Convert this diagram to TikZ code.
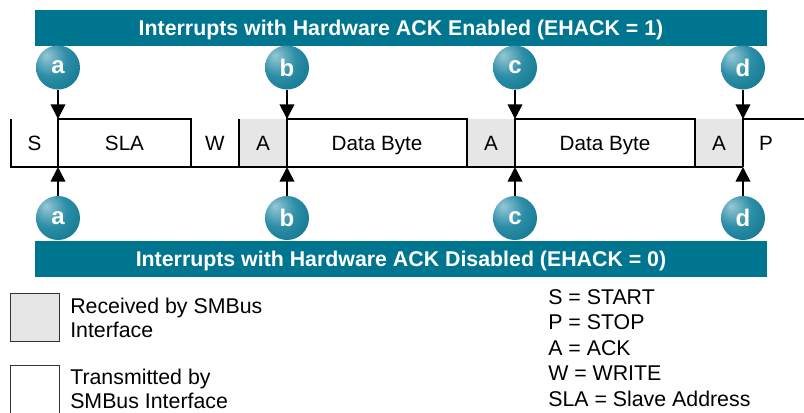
\documentclass[tikz,border=0pt]{standalone}
\usepackage{fontspec}
\setmainfont{Liberation Sans}
\usetikzlibrary{arrows.meta}
\definecolor{bannerteal}{RGB}{0,117,143}
\definecolor{bubblehi}{RGB}{150,200,214}
\definecolor{bubblemid}{RGB}{45,142,167}
\definecolor{bubbleedge}{RGB}{0,106,128}
\definecolor{rxgray}{RGB}{230,230,230}
\pgfdeclareradialshading{bubbleshade}{\pgfpoint{-14bp}{14bp}}{color(0bp)=(bubblehi); color(20bp)=(bubblemid); color(50bp)=(bubbleedge); color(72bp)=(bubbleedge)}
\begin{document}
\begin{tikzpicture}[x=0.75pt, y=-0.75pt,
  banner/.style={fill=bannerteal, text=white, font=\bfseries\fontsize{16}{19}\selectfont, minimum width=549pt, minimum height=27pt, inner sep=0pt, text height=11.5pt, text depth=0pt},
  bubble/.style={circle, shading=bubbleshade, minimum size=33pt, inner sep=0pt, text=white, font=\bfseries\fontsize{18}{20}\selectfont},
  field/.style={anchor=base, inner sep=0pt, font=\fontsize{15.5}{18}\selectfont},
  frame/.style={line width=1.1pt},
  irq/.style={line width=1.3pt, -{Triangle[length=11pt,width=11pt]}},
  swatch/.style={draw=black!80, line width=1.1pt, minimum width=36.5pt, minimum height=36.3pt, inner sep=0pt},
  legend/.style={anchor=north west, align=left, inner sep=0pt, font=\fontsize{16}{17.8}\selectfont},
  abbrev/.style={anchor=north west, align=left, inner sep=0pt, font=\fontsize{16}{19.2}\selectfont}
]
  \useasboundingbox (0,0) rectangle (804,412);
  \clip (0,0) rectangle (804,412);

  % received fields
  \fill[rxgray] (239,119) rectangle (287,167);
  \fill[rxgray] (467,119) rectangle (515,167);
  \fill[rxgray] (695,119) rectangle (743,167);

  % frame outline
  \draw[frame] (11,119) -- (11,167) -- (743,167);
  \draw[frame] (58,167) -- (58,119) -- (191,119) -- (191,167);
  \draw[frame] (239,119) -- (239,167);
  \draw[frame] (287,167) -- (287,119) -- (467,119) -- (467,167);
  \draw[frame] (515,167) -- (515,119) -- (695,119) -- (695,167);
  \draw[frame] (743,167) -- (743,119) -- (804,119);

  \node[field] (start) at (34.5,150.5) {S};
  \node[field] (sla) at (124.5,150.5) {SLA};
  \node[field] (write) at (215,150.5) {W};
  \node[field] (ack1) at (263,150.5) {A};
  \node[field] (data1) at (377,150.5) {Data Byte};
  \node[field] (ack2) at (491,150.5) {A};
  \node[field] (data2) at (605,150.5) {Data Byte};
  \node[field] (ack3) at (719,150.5) {A};
  \node[field] (stop) at (766,150.5) {P};

  \coordinate (top-a) at (58,119);
  \coordinate (top-b) at (287,119);
  \coordinate (top-c) at (515,119);
  \coordinate (top-d) at (743,119);
  \coordinate (bot-a) at (58,167);
  \coordinate (bot-b) at (287,167);
  \coordinate (bot-c) at (515,167);
  \coordinate (bot-d) at (743,167);

  % EHACK = 1
  \node[banner] (hwack-on) at (401,28) {Interrupts with Hardware ACK Enabled (EHACK = 1)};
  \node[bubble] (on-a) at (58,67.5) {a};
  \node[bubble] (on-b) at (287,67.5) {b};
  \node[bubble] (on-c) at (515,67.5) {c};
  \node[bubble] (on-d) at (743,67.5) {d};
  \draw[irq] (on-a) -- (top-a);
  \draw[irq] (on-b) -- (top-b);
  \draw[irq] (on-c) -- (top-c);
  \draw[irq] (on-d) -- (top-d);

  % EHACK = 0
  \node[bubble] (off-a) at (58,218) {a};
  \node[bubble] (off-b) at (287,218) {b};
  \node[bubble] (off-c) at (515,218) {c};
  \node[bubble] (off-d) at (743,218) {d};
  \draw[irq] (off-a) -- (bot-a);
  \draw[irq] (off-b) -- (bot-b);
  \draw[irq] (off-c) -- (bot-c);
  \draw[irq] (off-d) -- (bot-d);
  \node[banner] (hwack-off) at (401,259) {Interrupts with Hardware ACK Disabled (EHACK = 0)};

  % legend
  \node[swatch, fill=rxgray] (rx-key) at (35,317.5) {};
  \node[legend] (rx-text) at (70,298) {Received by SMBus\\Interface};
  \node[swatch, fill=white] (tx-key) at (35,389.5) {};
  \node[legend] (tx-text) at (70,369) {Transmitted by\\SMBus Interface};
  \node[abbrev] (abbrev-list) at (548,289) {S = START\\P = STOP\\A = ACK\\W = WRITE\\SLA = Slave Address};
\end{tikzpicture}
\end{document}
